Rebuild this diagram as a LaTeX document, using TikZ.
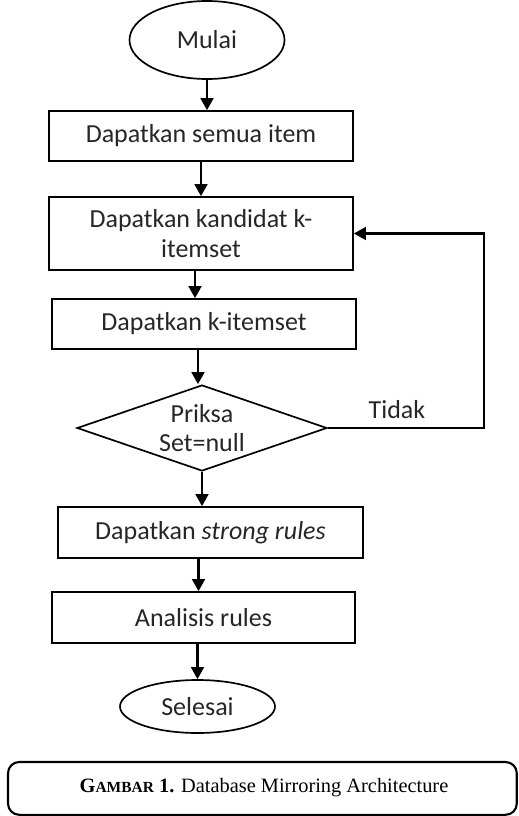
\documentclass[tikz,border=0pt]{standalone}
\usepackage{fontspec}
\setmainfont{Carlito}
\newfontfamily\capfont{Liberation Serif}
\usetikzlibrary{shapes.geometric,arrows.meta}

\begin{document}
\begin{tikzpicture}[
  every node/.style={font=\fontsize{18.5}{21}\selectfont, text=black!85},
  proses/.style={draw, line width=1.2pt, inner sep=0pt, align=center, minimum width=7.6cm, minimum height=1.25cm},
  ujung/.style={draw, ellipse, line width=1.2pt, inner sep=0pt, minimum width=3.875cm},
  arr/.style={line width=1.5pt, -{Triangle[length=0.3cm,width=0.32cm]}}
]
\useasboundingbox (0,0) rectangle (12.95,-20.4);

\node[ujung, minimum height=1.95cm] (mulai) at (5.175,-1.0) {Mulai};
\node[proses] (semua) at (5.025,-3.4) {Dapatkan semua item};
\node[proses, minimum height=1.825cm] (kandidat) at (5.025,-5.8375) {Dapatkan kandidat k-\\itemset};
\node[proses] (itemset) at (5.1,-8.1) {Dapatkan k-itemset};
\node[draw, diamond, line width=1.2pt, inner sep=0pt, shape aspect=2.9, align=center,
      minimum width=6.25cm, minimum height=2.15cm] (priksa) at (5.05,-10.7) {Priksa\\Set=null};
\node (tidak) at (9.925,-10.25) {Tidak};
\node[proses, minimum width=7.625cm, minimum height=1.275cm] (strong) at (5.2625,-13.3125) {Dapatkan \textit{strong rules}};
\node[proses, minimum width=7.575cm, minimum height=1.275cm] (analisis) at (5.0875,-15.4375) {Analisis rules};
\node[ujung, minimum height=1.325cm] (selesai) at (4.9375,-17.6625) {Selesai};
\coordinate (balik) at (12.1,-10.7);

\draw[arr] (mulai.south) -- (mulai.south |- semua.north);
\draw[arr] (semua.south) -- (semua.south |- kandidat.north);
\draw[arr] ([xshift=-0.15cm]kandidat.south) -- ([xshift=-0.15cm]kandidat.south |- itemset.north);
\draw[arr] ([xshift=-0.15cm]itemset.south) -- ([xshift=-0.15cm]itemset.south |- priksa.north);
\draw[arr] (priksa.south) -- (priksa.south |- strong.north);
\draw[arr] ([xshift=-0.3cm]strong.south) -- ([xshift=-0.3cm]strong.south |- analisis.north);
\draw[arr] ([xshift=-0.15cm]analisis.south) -- ([xshift=-0.15cm]analisis.south |- selesai.north);
\draw[arr] (priksa.east) -- (balik) |- (kandidat.east);

% keterangan gambar
\draw[line width=1.5pt, rounded corners=8pt] (0.2,-19.05) rectangle (12.92,-20.37);
\node[font=\capfont\fontsize{14.5}{17}\selectfont, text=black] (caption) at (6.6,-19.7)
  {\textbf{G\fontsize{11}{13}\selectfont AMBAR\fontsize{14.5}{17}\selectfont\ 1.} Database Mirroring Architecture};
\end{tikzpicture}
\end{document}
